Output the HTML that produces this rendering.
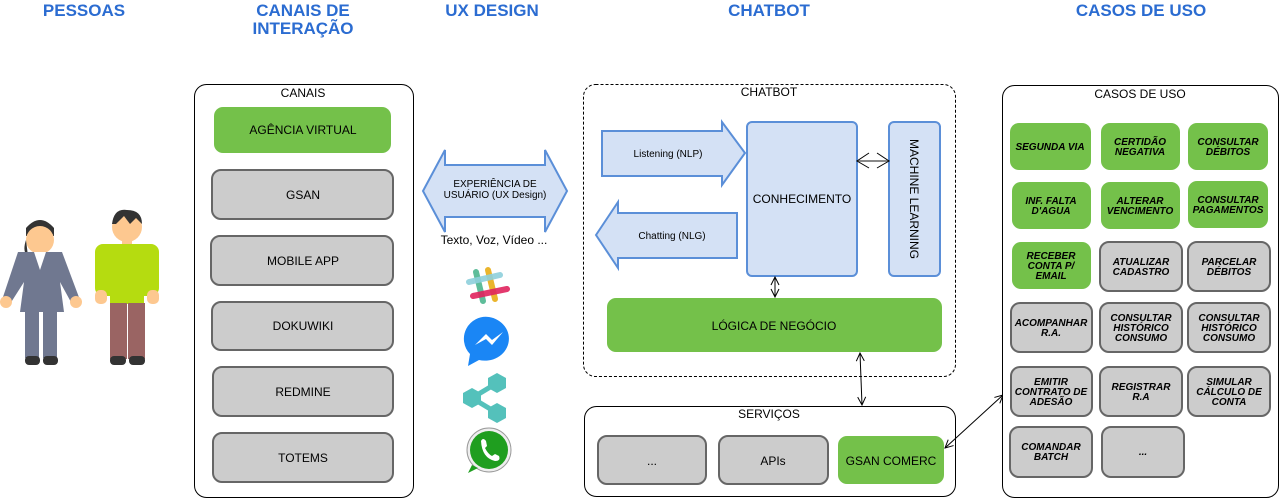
<!DOCTYPE html>
<html><head><meta charset="utf-8"><style>
html,body{margin:0;padding:0;background:#fff;}
svg{display:block;}
text{font-family:"Liberation Sans",sans-serif;}
.h{font-size:17px;font-weight:bold;fill:#2b6cd1;text-anchor:middle;}
.t{font-size:12px;fill:#000;text-anchor:middle;}
.s{font-size:10px;fill:#000;text-anchor:middle;}
.c{font-size:10px;font-weight:bold;font-style:italic;fill:#000;text-anchor:middle;}
.g{fill:#74c14a;}
.gr{fill:#cccccc;stroke:#666;stroke-width:2;}
.bl{fill:#d4e1f5;stroke:#5b8fd8;stroke-width:2;}
</style></head><body>
<svg width="1282" height="499" viewBox="0 0 1282 499" xmlns="http://www.w3.org/2000/svg">
<defs>
<marker id="ah" markerWidth="10" markerHeight="10" refX="9" refY="5" orient="auto-start-reverse" markerUnits="userSpaceOnUse"><path d="M1,1 L9,5 L1,9" fill="none" stroke="#000" stroke-width="1"/></marker>
</defs>
<!-- headers -->
<text class="h" x="84" y="16">PESSOAS</text>
<text class="h" x="303" y="16">CANAIS DE</text>
<text class="h" x="303" y="34">INTERAÇÃO</text>
<text class="h" x="492" y="16">UX DESIGN</text>
<text class="h" x="769" y="16">CHATBOT</text>
<text class="h" x="1141" y="16">CASOS DE USO</text>

<!-- people -->
<g>
<path d="M26,228 Q40,212 54,228 L54,236 L26,236 Z" fill="#333"/>
<circle cx="40" cy="240" r="14" fill="#fdc890"/>
<path d="M26,240 Q22,252 28,256" fill="#333"/>
<path d="M18,252 L62,252 L80,300 L72,304 L60,282 L64,312 L20,312 L24,282 L10,304 L2,300 Z" fill="#707890"/>
<path d="M34,252 L40,270 L46,252 Z" fill="#fff"/>
<circle cx="6" cy="302" r="6" fill="#fdc890"/><circle cx="76" cy="302" r="6" fill="#fdc890"/>
<rect x="25" y="312" width="14" height="46" fill="#707890"/><rect x="43" y="312" width="14" height="46" fill="#707890"/>
<rect x="25" y="356" width="15" height="9" rx="4" fill="#333"/><rect x="43" y="356" width="15" height="9" rx="4" fill="#333"/>
</g>
<g>
<circle cx="127" cy="227" r="15" fill="#fdc890"/>
<path d="M112,224 Q114,208 127,210 Q142,210 142,224 L136,218 L130,224 L124,216 L116,224 Z" fill="#333"/>
<rect x="122" y="240" width="10" height="8" fill="#fdc890"/>
<rect x="95" y="244" width="64" height="52" rx="8" fill="#b5dc10"/>
<rect x="110" y="260" width="34" height="44" fill="#b5dc10"/>
<rect x="95" y="290" width="12" height="14" rx="5" fill="#fdc890"/><rect x="147" y="290" width="12" height="14" rx="5" fill="#fdc890"/>
<rect x="110" y="303" width="17" height="56" fill="#9a6463"/><rect x="128" y="303" width="17" height="56" fill="#9a6463"/>
<rect x="110" y="356" width="16" height="9" rx="4" fill="#333"/><rect x="129" y="356" width="16" height="9" rx="4" fill="#333"/>
</g>

<!-- canais -->
<rect x="194.5" y="84.5" width="219" height="413" rx="12" fill="#fff" stroke="#000"/>
<text class="t" x="303" y="97">CANAIS</text>
<rect class="g" x="214" y="107" width="177" height="46" rx="9"/>
<text class="t" x="303" y="134">AGÊNCIA VIRTUAL</text>
<rect class="gr" x="212" y="170" width="181" height="49" rx="9"/><text class="t" x="303" y="199">GSAN</text>
<rect class="gr" x="211" y="236" width="182" height="49" rx="9"/><text class="t" x="303" y="265">MOBILE APP</text>
<rect class="gr" x="212" y="302" width="181" height="48" rx="9"/><text class="t" x="303" y="330">DOKUWIKI</text>
<rect class="gr" x="213" y="367" width="180" height="49" rx="9"/><text class="t" x="303" y="396">REDMINE</text>
<rect class="gr" x="213" y="433" width="180" height="49" rx="9"/><text class="t" x="303" y="462">TOTEMS</text>

<!-- UX arrow -->
<path class="bl" d="M423,191 L445,150 L445,165 L545,165 L545,150 L567,191 L545,232 L545,217 L445,217 L445,232 Z"/>
<text class="s" x="495" y="187">EXPERIÊNCIA DE</text>
<text class="s" x="495" y="198">USUÁRIO (UX Design)</text>
<text class="t" x="494" y="244">Texto, Voz, Vídeo ...</text>

<!-- icons -->
<g stroke-linecap="round" stroke-width="6">
<line x1="476" y1="272" x2="483" y2="301" stroke="#5ebd9a"/>
<line x1="488" y1="270" x2="495" y2="299" stroke="#eab52d"/>
<line x1="469" y1="282" x2="500" y2="275" stroke="#8ed0dc" opacity="0.9"/>
<line x1="473" y1="296" x2="507" y2="289" stroke="#e0245e" opacity="0.9"/>
</g>
<path d="M489,317 A24,22 0 1 1 479,360 L468,366 L470,354 A22,22 0 0 1 489,317 Z" fill="#1a86f5"/>
<path d="M475,345 L486,334 L492,340 L503,332 L492,345 L486,339 Z" fill="#fff"/>
<g fill="#54c1bb">
<polygon points="497,373 506,378 506,388 497,393 488,388 488,378"/>
<polygon points="472,388 481,393 481,403 472,408 463,403 463,393"/>
<polygon points="497,403 506,408 506,418 497,423 488,418 488,408"/>
<line x1="497" y1="383" x2="472" y2="398" stroke="#54c1bb" stroke-width="5"/>
<line x1="472" y1="398" x2="497" y2="413" stroke="#54c1bb" stroke-width="5"/>
</g>
<circle cx="489" cy="450" r="22" fill="#eee" stroke="#999" stroke-width="1"/>
<circle cx="489" cy="450" r="19" fill="#1f9e1f"/>
<path d="M472,465 L468,473 L478,468 Z" fill="#1f9e1f"/>
<path d="M481,441 Q483,437 486,441 L487,446 L485,448 Q488,454 492,456 L495,454 L499,456 Q501,461 495,461 Q482,458 481,441 Z" fill="#fff"/>

<!-- chatbot -->
<rect x="583.5" y="84.5" width="372" height="292" rx="12" fill="none" stroke="#000" stroke-dasharray="3,2"/>
<text class="t" x="769" y="96">CHATBOT</text>
<path class="bl" d="M602,131 L722,131 L722,122 L745,153 L722,185 L722,176 L602,176 Z"/>
<text class="s" x="668" y="157">Listening (NLP)</text>
<path class="bl" d="M596,235 L618,202 L618,213 L737,213 L737,258 L618,258 L618,268 Z"/>
<text class="s" x="672" y="239">Chatting (NLG)</text>
<rect class="bl" x="747" y="122" width="110" height="154" rx="5"/>
<text class="t" x="802" y="203">CONHECIMENTO</text>
<rect class="bl" x="889" y="122" width="51" height="154" rx="5"/>
<text class="t" transform="translate(910,199) rotate(90)" x="0" y="0">MACHINE LEARNING</text>
<line x1="857" y1="161" x2="889" y2="161" stroke="#888" stroke-width="2"/>
<path d="M869,153 L857,161 L869,168 M877,153 L889,161 L877,168" fill="none" stroke="#000" stroke-width="1"/>
<rect class="g" x="607" y="298" width="335" height="54" rx="9"/>
<text class="t" x="774" y="330">LÓGICA DE NEGÓCIO</text>
<line x1="775" y1="277" x2="775" y2="297" stroke="#000" marker-start="url(#ah)" marker-end="url(#ah)"/>
<line x1="860" y1="353" x2="862" y2="405" stroke="#000" marker-start="url(#ah)" marker-end="url(#ah)"/>

<!-- servicos -->
<rect x="584.5" y="406.5" width="371" height="90" rx="12" fill="#fff" stroke="#000"/>
<text class="t" x="769" y="418">SERVIÇOS</text>
<rect class="gr" x="598" y="436" width="108" height="48" rx="9"/><text class="t" x="652" y="465">...</text>
<rect class="gr" x="719" y="436" width="109" height="48" rx="9"/><text class="t" x="773" y="465">APIs</text>
<rect class="g" x="838" y="436" width="106" height="48" rx="9"/><text class="t" x="891" y="465">GSAN COMERC</text>
<line x1="945" y1="448" x2="1003" y2="395" stroke="#000" marker-start="url(#ah)" marker-end="url(#ah)"/>

<!-- casos de uso -->
<rect x="1002.5" y="85.5" width="276" height="412" rx="12" fill="#fff" stroke="#000"/>
<text class="t" x="1140" y="98">CASOS DE USO</text>
<g>
<rect class="g" x="1010" y="123" width="81" height="47" rx="9"/><text class="c" x="1050" y="150">SEGUNDA VIA</text>
<rect class="g" x="1101" y="123" width="79" height="47" rx="9"/><text class="c" x="1140" y="145">CERTIDÃO</text><text class="c" x="1140" y="155">NEGATIVA</text>
<rect class="g" x="1188" y="123" width="80" height="47" rx="9"/><text class="c" x="1228" y="145">CONSULTAR</text><text class="c" x="1228" y="155">DÉBITOS</text>

<rect class="g" x="1012" y="182" width="79" height="47" rx="9"/><text class="c" x="1051" y="204">INF. FALTA</text><text class="c" x="1051" y="214">D'AGUA</text>
<rect class="g" x="1101" y="182" width="79" height="47" rx="9"/><text class="c" x="1140" y="204">ALTERAR</text><text class="c" x="1140" y="214">VENCIMENTO</text>
<rect class="g" x="1188" y="181" width="80" height="47" rx="9"/><text class="c" x="1228" y="203">CONSULTAR</text><text class="c" x="1228" y="213">PAGAMENTOS</text>

<rect class="g" x="1012" y="242" width="79" height="47" rx="9"/><text class="c" x="1051" y="259">RECEBER</text><text class="c" x="1051" y="269">CONTA P/</text><text class="c" x="1051" y="279">EMAIL</text>
<rect class="gr" x="1100" y="242" width="82" height="49" rx="9"/><text class="c" x="1141" y="265">ATUALIZAR</text><text class="c" x="1141" y="275">CADASTRO</text>
<rect class="gr" x="1188" y="242" width="82" height="49" rx="9"/><text class="c" x="1229" y="265">PARCELAR</text><text class="c" x="1229" y="275">DÉBITOS</text>

<rect class="gr" x="1011" y="303" width="81" height="49" rx="9"/><text class="c" x="1051" y="326">ACOMPANHAR</text><text class="c" x="1051" y="336">R.A.</text>
<rect class="gr" x="1100" y="303" width="82" height="49" rx="9"/><text class="c" x="1141" y="321">CONSULTAR</text><text class="c" x="1141" y="331">HISTÓRICO</text><text class="c" x="1141" y="341">CONSUMO</text>
<rect class="gr" x="1188" y="303" width="82" height="49" rx="9"/><text class="c" x="1229" y="321">CONSULTAR</text><text class="c" x="1229" y="331">HISTÓRICO</text><text class="c" x="1229" y="341">CONSUMO</text>

<rect class="gr" x="1011" y="367" width="81" height="49" rx="9"/><text class="c" x="1051" y="385">EMITIR</text><text class="c" x="1051" y="395">CONTRATO DE</text><text class="c" x="1051" y="405">ADESÃO</text>
<rect class="gr" x="1100" y="367" width="82" height="49" rx="9"/><text class="c" x="1141" y="390">REGISTRAR</text><text class="c" x="1141" y="400">R.A</text>
<rect class="gr" x="1188" y="367" width="82" height="49" rx="9"/><text class="c" x="1229" y="385">SIMULAR</text><text class="c" x="1229" y="395">CÁLCULO DE</text><text class="c" x="1229" y="405">CONTA</text>

<rect class="gr" x="1010" y="427" width="82" height="50" rx="9"/><text class="c" x="1051" y="450">COMANDAR</text><text class="c" x="1051" y="460">BATCH</text>
<rect class="gr" x="1102" y="427" width="82" height="50" rx="9"/><text class="c" x="1143" y="455">...</text>
</g>
</svg>
</body></html>
